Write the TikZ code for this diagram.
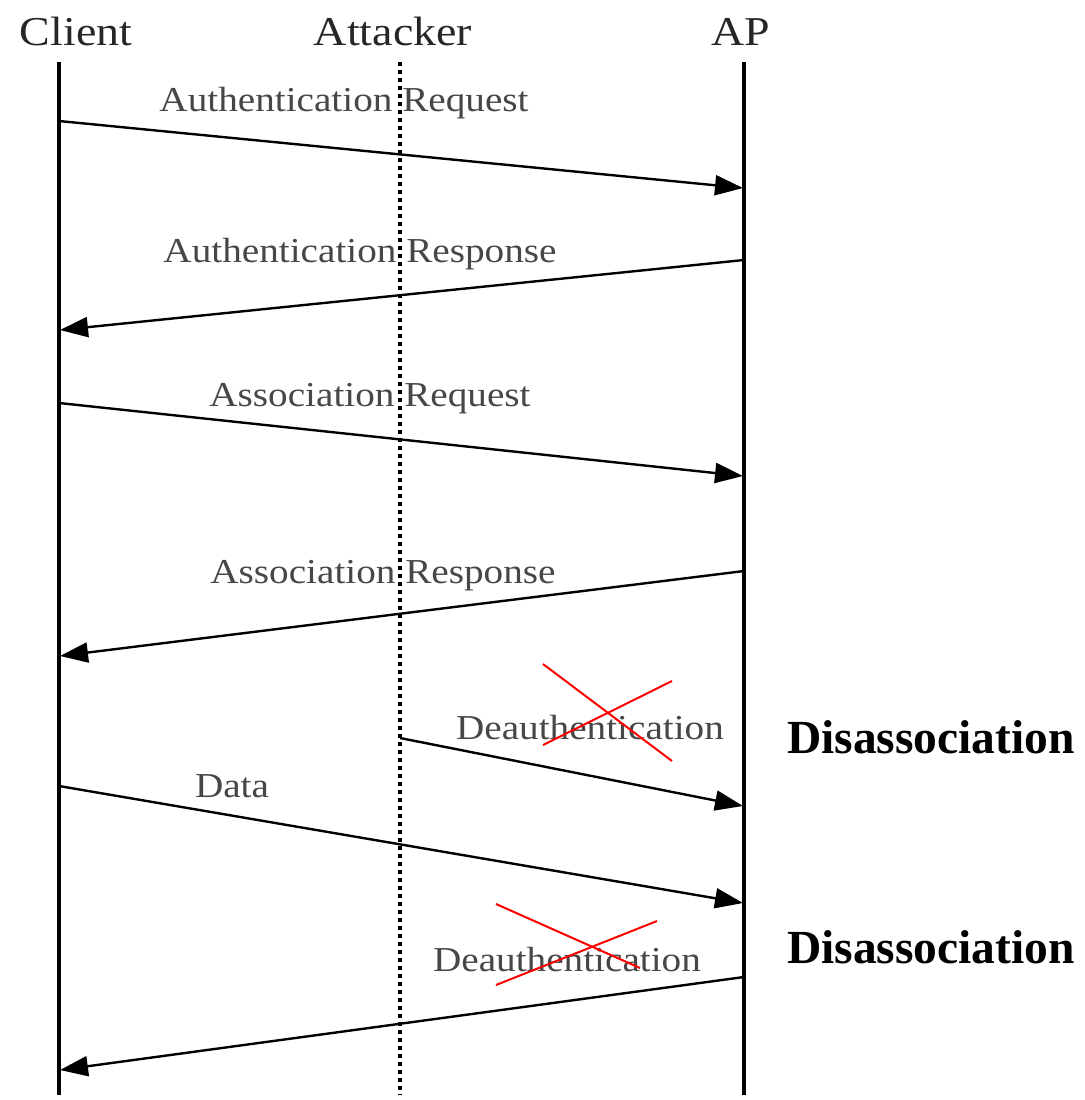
\documentclass[tikz,border=0pt]{standalone}
\usepackage{fontspec}
\setmainfont{Liberation Serif}
\usetikzlibrary{arrows.meta}
\newcommand\hstretch[1]{\scalebox{1.12}[1]{#1}}
\begin{document}
\begin{tikzpicture}[x=1pt,y=-1pt,
  hdr/.style={inner sep=0pt, anchor=base, text=black!85, font=\fontsize{41}{46}\selectfont},
  msg/.style={inner sep=0pt, anchor=base, text=black!72, font=\fontsize{35}{40}\selectfont},
  dis/.style={inner sep=0pt, anchor=base west, font=\fontsize{47.5}{52}\selectfont\bfseries},
  life/.style={line width=3.6pt},
  attk/.style={line width=3.6pt, dash pattern=on 4pt off 4pt},
  arr/.style={line width=2.4pt, -{Triangle[length=28pt,width=20pt]}},
  cross/.style={red, line width=2pt}]
\useasboundingbox (0,0) rectangle (1084,1100);
\fill[white] (0,0) rectangle (1084,1100);

% headers
\node[hdr] (client) at (76,45) {\hstretch{Client}};
\node[hdr] (attacker) at (393,45) {\hstretch{Attacker}};
\node[hdr] (ap) at (741,45) {\hstretch{AP}};

% lifeline ends
\coordinate (ct) at (59,62);   \coordinate (cb) at (59,1095);
\coordinate (tt) at (400,62);  \coordinate (tb) at (400,1095);
\coordinate (at) at (744,62);  \coordinate (ab) at (744,1095);

% message labels
\node[msg] (m1) at (344,111) {\hstretch{Authentication Request}};
\node[msg] (m2) at (360,262) {\hstretch{Authentication Response}};
\node[msg] (m3) at (370,406) {\hstretch{Association Request}};
\node[msg] (m4) at (383,583) {\hstretch{Association Response}};
\node[msg] (m5) at (590,739) {\hstretch{Deauthentication}};
\node[msg] (m6) at (232,797) {\hstretch{Data}};
\node[msg] (m7) at (567,971) {\hstretch{Deauthentication}};

% lifelines
\draw[life] (ct) -- (cb);
\draw[attk] (tt) -- (tb);
\draw[life] (at) -- (ab);

% message endpoints
\coordinate (c1) at (59,121);  \coordinate (a1) at (743,188);
\coordinate (a2) at (744,260); \coordinate (c2) at (60,330);
\coordinate (c3) at (59,403);  \coordinate (a3) at (743,476);
\coordinate (a4) at (744,571); \coordinate (c4) at (60,656);
\coordinate (t5) at (400,738); \coordinate (a5) at (743,806);
\coordinate (c6) at (59,786);  \coordinate (a6) at (743,903);
\coordinate (a7) at (744,977); \coordinate (c7) at (60,1070);

\draw[arr] (c1) -- (a1);
\draw[arr] (a2) -- (c2);
\draw[arr] (c3) -- (a3);
\draw[arr] (a4) -- (c4);
\draw[arr] (t5) -- (a5);
\draw[arr] (c6) -- (a6);
\draw[arr] (a7) -- (c7);

% red crosses
\coordinate (x1a) at (543,664); \coordinate (x1b) at (672,761);
\coordinate (x1c) at (543,745); \coordinate (x1d) at (672,681);
\draw[cross] (x1a) -- (x1b);
\draw[cross] (x1c) -- (x1d);
\coordinate (x2a) at (496,904); \coordinate (x2b) at (640,968);
\coordinate (x2c) at (496,985); \coordinate (x2d) at (657,921);
\draw[cross] (x2a) -- (x2b);
\draw[cross] (x2c) -- (x2d);

% disassociation labels
\node[dis] (d1) at (787,753) {Disassociation};
\node[dis] (d2) at (787,963) {Disassociation};
\end{tikzpicture}
\end{document}
